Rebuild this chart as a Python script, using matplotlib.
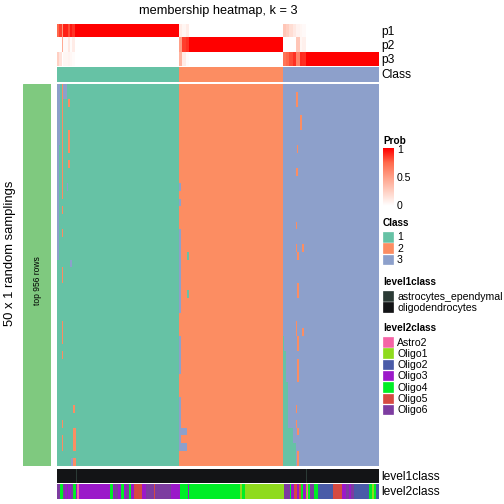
import numpy as np
import matplotlib
matplotlib.use("Agg")
import matplotlib.pyplot as plt
from matplotlib.colors import ListedColormap, LinearSegmentedColormap
from matplotlib.patches import Rectangle

plt.rcParams['font.family'] = ['Liberation Sans', 'DejaVu Sans']

W = H = 504

# ---- data ----
class_labels = ['1', '2', '3']
class_sizes  = [122, 104, 96]
class_colors = ['#66C2A5', '#FC8D62', '#8DA0CB']
n_samplings  = 50

# leading columns of each class with uncertain membership: (ncols, p1, p2, p3)
lead_c1 = [(2, .75, 0, .25), (3, .85, 0, .15), (1, .55, .45, 0), (5, .92, .03, .05),
           (2, .82, .12, .06), (2, .94, .02, .04), (3, .88, .1, .02)]
lead_c2 = [(3, .1, .5, .4), (4, .05, .85, .1), (3, .1, .88, .02)]
lead_c3 = [(3, .3, 0, .7), (3, .25, 0, .75), (4, .18, 0, .82), (3, .12, 0, .88),
           (4, .07, .3, .63), (2, .05, .05, .9), (4, .03, .08, .89)]

# cells of the sampling matrix assigned to another class:
# (row_from, row_to, col_from, col_to_exclusive, class_index)
switches = [
    (0, 22, 0, 2, 2), (0, 7, 2, 3, 2),
    (0, 14, 5, 6, 1), (16, 16, 5, 6, 1), (19, 19, 5, 6, 1), (24, 25, 5, 6, 1),
    (31, 33, 5, 6, 1), (35, 35, 5, 6, 1), (44, 44, 5, 6, 1), (46, 47, 5, 6, 1),
    (0, 1, 6, 10, 2),
    (2, 2, 11, 13, 1), (6, 8, 11, 13, 1), (10, 10, 11, 13, 1),
    (13, 13, 10, 11, 2), (23, 23, 13, 15, 2),
    (42, 42, 16, 18, 1), (45, 47, 16, 19, 1), (49, 49, 16, 19, 1), (49, 49, 14, 16, 2),
    (13, 13, 122, 124, 2), (15, 15, 122, 124, 2), (19, 29, 122, 124, 2),
    (33, 37, 122, 124, 2), (41, 44, 122, 124, 2), (45, 45, 122, 130, 2),
    (46, 46, 122, 124, 2), (47, 47, 122, 130, 2),
    (22, 22, 130, 132, 0), (27, 27, 130, 132, 0),
    (33, 34, 226, 227, 0), (35, 38, 226, 229, 0), (39, 44, 226, 231, 0),
    (45, 46, 226, 236, 0), (47, 49, 226, 239, 0),
    (18, 18, 239, 240, 1), (21, 21, 239, 240, 1), (31, 32, 239, 240, 1),
    (42, 42, 239, 240, 1), (44, 44, 239, 240, 1),
    (22, 22, 240, 242, 1), (26, 27, 240, 242, 1), (33, 34, 240, 242, 1),
    (36, 38, 240, 242, 1), (45, 45, 240, 242, 1), (48, 49, 240, 242, 1),
    (21, 21, 245, 247, 1), (32, 32, 245, 247, 1),
    (1, 2, 239, 241, 1), (4, 5, 243, 245, 1), (8, 8, 240, 241, 1), (11, 11, 239, 241, 1),
]

level1_names  = ['astrocytes_ependymal', 'oligodendrocytes']
level1_colors = ['#2B3A35', '#131416']
level1_astro_cols = [19, 249]

level2_names  = ['Astro2', 'Oligo1', 'Oligo2', 'Oligo3', 'Oligo4', 'Oligo5', 'Oligo6']
level2_colors = ['#F564A6', '#8FDB1D', '#4A5BA8', '#9B19C9', '#00EE26', '#D64A42', '#7D3CA0']
level2_runs = [
    ('Oligo6', 3), ('Oligo4', 3), ('Oligo6', 2), ('Oligo3', 2), ('Oligo6', 1), ('Oligo3', 3),
    ('Oligo6', 2), ('Oligo4', 3), ('Oligo3', 1), ('Astro2', 2), ('Oligo3', 31), ('Oligo4', 3),
    ('Oligo3', 1), ('Oligo6', 4), ('Oligo3', 3), ('Oligo4', 3), ('Oligo3', 2), ('Oligo6', 3),
    ('Oligo4', 2), ('Oligo3', 3), ('Oligo5', 8), ('Oligo3', 4), ('Oligo6', 8), ('Oligo5', 1),
    ('Oligo6', 16), ('Oligo3', 9), ('Oligo4', 8), ('Oligo3', 1), ('Oligo4', 51), ('Oligo1', 2),
    ('Oligo4', 3), ('Oligo1', 39), ('Oligo6', 6), ('Oligo4', 1), ('Oligo3', 3), ('Oligo5', 3),
    ('Oligo3', 2), ('Oligo5', 2), ('Oligo4', 2), ('Oligo3', 3), ('Oligo1', 1), ('Astro2', 1),
    ('Oligo4', 2), ('Oligo6', 4), ('Oligo4', 4), ('Oligo2', 15), ('Oligo5', 9), ('Oligo3', 4),
    ('Oligo6', 3), ('Oligo3', 2), ('Oligo6', 3), ('Oligo2', 15), ('Oligo4', 3), ('Oligo1', 2),
    ('Oligo4', 2), ('Oligo2', 4),
]

# ---- build matrices ----
n_cols = sum(class_sizes)
cls = np.repeat(np.arange(3), class_sizes)

P = np.zeros((3, n_cols))
start = 0
for k, lead in enumerate([lead_c1, lead_c2, lead_c3]):
    P[k, start:start + class_sizes[k]] = 1.0
    c = start
    for n, a, b, d in lead:
        P[:, c:c + n] = np.array([a, b, d])[:, None]
        c += n
    start += class_sizes[k]

M = np.tile(cls, (n_samplings, 1))
for r0, r1, c0, c1, k in switches:
    M[r0:r1 + 1, c0:c1] = k

lv1 = np.ones(n_cols, dtype=int)
lv1[level1_astro_cols] = 0
lv2 = np.concatenate([[level2_names.index(n)] * w for n, w in level2_runs])[:n_cols]

prob_cmap = LinearSegmentedColormap.from_list(
    'prob', ['#FFFFFF', '#FFD0C3', '#FFA088', '#FF6A4C', '#FF0000'])

# ---- figure ----
fig = plt.figure(figsize=(W / 72, H / 72), dpi=72)
X0, X1 = 57, 379


def add_ax(x0, y0, x1, y1):
    ax = fig.add_axes([x0 / W, 1 - y1 / H, (x1 - x0) / W, (y1 - y0) / H])
    ax.set_axis_off()
    return ax


def ftext(x, y, s, **kw):
    fig.text(x / W, 1 - y / H, s, **kw)


ax = add_ax(X0, 24, X1, 66)
ax.imshow(P, cmap=prob_cmap, vmin=0, vmax=1, aspect='auto', interpolation='nearest')

ax = add_ax(X0, 67, X1, 82)
ax.imshow(cls[None, :], cmap=ListedColormap(class_colors), vmin=0, vmax=2,
          aspect='auto', interpolation='nearest')

ax = add_ax(X0, 84, X1, 466)
ax.imshow(M, cmap=ListedColormap(class_colors), vmin=0, vmax=2,
          aspect='auto', interpolation='nearest')

ax = add_ax(X0, 469, X1, 483)
ax.imshow(lv1[None, :], cmap=ListedColormap(level1_colors), vmin=0, vmax=1,
          aspect='auto', interpolation='nearest')

ax = add_ax(X0, 484, X1, 499)
ax.imshow(lv2[None, :], cmap=ListedColormap(level2_colors), vmin=0, vmax=6,
          aspect='auto', interpolation='nearest')

# left split bar
ax = add_ax(23, 84, 51, 466)
ax.add_patch(Rectangle((0, 0), 1, 1, color='#7FC97F'))
ftext(37, 281, 'top 956 rows', rotation=90, ha='center', va='center', fontsize=8.5)
ftext(10, 253, '50 x 1 random samplings', rotation=90, ha='center', va='center', fontsize=13)

ftext(218, 11, 'membership heatmap, k = 3', ha='center', va='center', fontsize=12.8)
for lab, y in [('p1', 32), ('p2', 46), ('p3', 60), ('Class', 75),
               ('level1class', 477), ('level2class', 492)]:
    ftext(381, y, lab, ha='left', va='center', fontsize=12)

# legends
lax = fig.add_axes([0, 0, 1, 1])
lax.set_xlim(0, W)
lax.set_ylim(H, 0)
lax.set_axis_off()
lax.patch.set_alpha(0)

lax.text(383, 141, 'Prob', fontsize=10, fontweight='bold', va='center')
cax = add_ax(383, 148, 394, 206)
cax.imshow(np.linspace(1, 0, 100)[:, None], cmap=prob_cmap, aspect='auto')
for v, y in [(1, 150), (0.5, 178), (0, 206)]:
    lax.text(397, y, f'{v:g}', fontsize=10.5, va='center')
    if v > 0:
        lax.plot([383, 385], [y, y], color='white', lw=0.8)
        lax.plot([392, 394], [y, y], color='white', lw=0.8)


def legend_block(title, y_title, names, colors):
    lax.text(383, y_title, title, fontsize=10, fontweight='bold', va='center')
    for i, (n, c) in enumerate(zip(names, colors)):
        y = y_title + 9 + i * 11.3
        lax.add_patch(Rectangle((383, y), 11, 10.5, facecolor=c, edgecolor='white', lw=0.3))
        lax.text(397, y + 5.5, n, fontsize=10.5, va='center')


legend_block('Class', 223, class_labels, class_colors)
legend_block('level1class', 282, level1_names, level1_colors)
legend_block('level2class', 328, level2_names, level2_colors)

fig.savefig('out.png', dpi=72)
